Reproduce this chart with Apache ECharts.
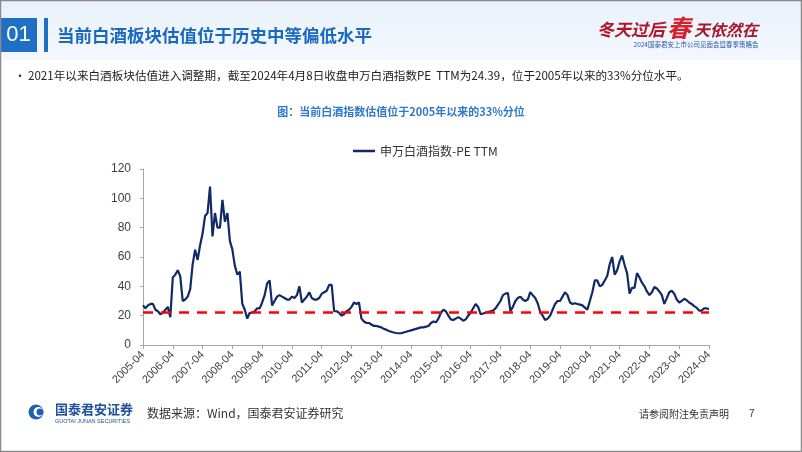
<!DOCTYPE html>
<html>
<head>
<meta charset="utf-8">
<script src="https://cdn.jsdelivr.net/npm/echarts@6/dist/echarts.min.js"></script>
<style>
html,body{margin:0;padding:0;background:#fff;}
#main{width:802px;height:452px;}
</style>
</head>
<body>
<div id="main"></div>
<script>
// ---- data ----
const startYear = 2005, startMonth = 4;
const tickLabels = ['2005-04','2006-04','2007-04','2008-04','2009-04','2010-04','2011-04','2012-04','2013-04','2014-04','2015-04','2016-04','2017-04','2018-04','2019-04','2020-04','2021-04','2022-04','2023-04','2024-04'];
const seriesName = '申万白酒指数-PE TTM';
const peValues = [
  27, 25, 27, 28, 28, 24, 23, 21, 22, 24, 26, 19,
  46, 48, 51, 47, 30, 31, 33, 38, 55, 65, 58, 68,
  76, 88, 90, 108, 74, 90, 80, 80, 99, 84, 90, 71,
  65, 54, 48, 50, 28, 24, 18, 22, 22, 23, 25, 25,
  29, 34, 42, 44, 27, 30, 33, 34, 33, 32, 31, 31,
  33, 32, 34, 40, 29, 31, 33, 36, 32, 31, 31, 32,
  35, 36, 37, 41, 41, 23, 23, 22, 20, 21, 23, 24,
  26, 29, 28, 29, 18, 16, 15, 15, 14, 13, 13, 12.5,
  12, 11, 10.5, 9.5, 9, 8.5, 8.2, 8, 8, 8.5, 9, 9.5,
  10, 10.5, 11, 11.5, 12, 12, 12.5, 13, 15, 16, 15.5, 18,
  22, 24, 23, 20, 17.5, 17, 18, 19, 18, 16.5, 17.5, 20,
  22, 25, 28, 26, 21, 21.5, 22, 22.5, 23, 23.5, 25, 27.5,
  30, 34, 35, 35.5, 23, 26, 30, 32, 33, 31, 30, 31,
  36, 34, 32, 28.5, 22.5, 20, 17, 18, 20, 24, 28, 30,
  30, 33, 36, 34, 29, 28, 28.5, 28, 27.5, 27, 25.5, 24,
  30, 36, 44, 44, 40, 41, 44, 47, 55, 60, 48, 51,
  57, 61, 54.5, 49, 35, 39, 39, 49, 46, 42.5, 40, 36.5,
  34, 36, 39.5, 38.5, 36.5, 34, 28, 32, 36, 37, 35, 31,
  29, 30, 31.5, 30.5, 29, 28, 26.5, 25.5, 23.5, 23.5, 25, 25,
  24.39
];
const percentileLevel = 22; // 33% 分位
const yTicks = [0, 20, 40, 60, 80, 100, 120];

// month categories
const categories = [];
for (let i = 0; i < peValues.length; i++) {
  const t = (startMonth - 1) + i;
  const y = startYear + Math.floor(t / 12);
  const m = (t % 12) + 1;
  categories.push(y + '-' + (m < 10 ? '0' + m : m));
}

const CJK = '"Noto Sans CJK SC", "Noto Sans", sans-serif';
const LAT = '"Liberation Sans", Arial, sans-serif';

const chart = echarts.init(document.getElementById('main'), null, {renderer: 'canvas'});
chart.setOption({
  backgroundColor: '#ffffff',
  animation: false,
  legend: {
    data: [{name: seriesName, icon: 'rect'}],
    left: 348, top: 140,
    itemWidth: 22, itemHeight: 2.5,
    textStyle: {fontFamily: CJK, fontSize: 12, color: '#333'}
  },
  grid: {left: 143, right: 93, top: 169, bottom: 107, containLabel: false},
  xAxis: {
    type: 'category',
    data: categories,
    boundaryGap: false,
    axisLine: {lineStyle: {color: '#a6a6a6', width: 1}},
    axisTick: {
      interval: function (idx, val) { return tickLabels.indexOf(val) >= 0; },
      length: 4, lineStyle: {color: '#a6a6a6'}
    },
    axisLabel: {
      interval: function (idx, val) { return tickLabels.indexOf(val) >= 0; },
      rotate: 45, fontFamily: LAT, fontSize: 11, color: '#404040', margin: 8
    },
    splitLine: {show: false}
  },
  yAxis: {
    type: 'value',
    min: yTicks[0], max: yTicks[yTicks.length - 1], interval: 20,
    axisLine: {show: true, lineStyle: {color: '#a6a6a6'}},
    axisTick: {show: true, length: 3, lineStyle: {color: '#a6a6a6'}},
    axisLabel: {fontFamily: LAT, fontSize: 12, color: '#404040', margin: 12},
    splitLine: {show: false}
  },
  series: [{
    name: seriesName,
    type: 'line',
    data: peValues,
    symbol: 'none',
    showSymbol: false,
    lineStyle: {color: '#0f2a66', width: 2.2},
    itemStyle: {color: '#0f2a66'},
    markLine: {
      silent: true,
      symbol: ['none', 'none'],
      label: {show: false},
      lineStyle: {color: '#ff0000', width: 2.5, type: [10, 8]},
      data: [{yAxis: percentileLevel}]
    },
    z: 3
  }],
  graphic: [
    // header background
    {type: 'rect', shape: {x: 0, y: 0, width: 802, height: 60}, z: -10,
      style: {fill: new echarts.graphic.LinearGradient(0, 0, 0, 1, [{offset: 0, color: '#e8f1fa'}, {offset: 1, color: '#f3f8fd'}])}},
    {type: 'rect', shape: {x: 0, y: 18, width: 37, height: 34}, style: {fill: '#1f6fc5'}},
    {type: 'text', x: 18.5, y: 35, style: {text: '01', fill: '#fff', fontSize: 22, fontFamily: LAT, align: 'center', verticalAlign: 'middle'}},
    {type: 'rect', shape: {x: 44, y: 18, width: 4, height: 34}, style: {fill: '#1f6fc5'}},
    {type: 'text', x: 57, y: 35, style: {text: '当前白酒板块估值位于历史中等偏低水平', fill: '#1a68c0', fontSize: 17.5, fontWeight: 'bold', fontFamily: CJK, verticalAlign: 'middle'}},
    // top-right event logo
    {type: 'text', x: 597, y: 30, style: {text: '冬天过后', fill: '#b3162b', fontSize: 17, fontStyle: 'italic', fontWeight: 'bold', fontFamily: CJK, verticalAlign: 'middle'}},
    {type: 'text', x: 679, y: 28, style: {text: '春', fill: '#d4202f', fontSize: 24, fontStyle: 'italic', fontWeight: 'bold', fontFamily: CJK, align: 'center', verticalAlign: 'middle'}},
    {type: 'text', x: 694, y: 30, style: {text: '天依然在', fill: '#a8162a', fontSize: 16, fontStyle: 'italic', fontWeight: 'bold', fontFamily: CJK, verticalAlign: 'middle'}},
    {type: 'text', x: 696, y: 45, style: {text: '2024国泰君安上市公司见面会暨春季策略会', fill: '#2a5aa8', fontSize: 6.5, fontFamily: CJK, align: 'center', verticalAlign: 'middle'}},
    // bullet text
    {type: 'text', x: 14, y: 76, style: {text: '•', fill: '#333', fontSize: 12, fontFamily: CJK, verticalAlign: 'middle'}},
    {type: 'text', x: 28, y: 76, style: {text: '2021年以来白酒板块估值进入调整期，截至2024年4月8日收盘申万白酒指数PE  TTM为24.39，位于2005年以来的33%分位水平。', fill: '#222', fontSize: 11.6, fontFamily: CJK, verticalAlign: 'middle'}},
    // chart title
    {type: 'text', x: 401, y: 112, style: {text: '图：当前白酒指数估值位于2005年以来的33%分位', fill: '#2f78cc', fontSize: 11, fontWeight: 'bold', fontFamily: CJK, align: 'center', verticalAlign: 'middle'}},
    // footer
    {type: 'circle', shape: {cx: 36, cy: 412, r: 7.5}, style: {fill: '#1f5fb4'}},
    {type: 'circle', shape: {cx: 38.5, cy: 412, r: 5}, style: {fill: '#ffffff'}},
    {type: 'circle', shape: {cx: 40, cy: 412, r: 3.5}, style: {fill: '#1f5fb4'}},
    {type: 'text', x: 55, y: 409, style: {text: '国泰君安证券', fill: '#1f4f9e', fontSize: 13, fontWeight: 'bold', fontFamily: CJK, verticalAlign: 'middle'}},
    {type: 'text', x: 55, y: 421, style: {text: 'GUOTAI JUNAN SECURITIES', fill: '#1f4f9e', fontSize: 5.5, fontFamily: LAT, verticalAlign: 'middle'}},
    {type: 'text', x: 147, y: 413, style: {text: '数据来源：Wind，国泰君安证券研究', fill: '#333', fontSize: 12, fontFamily: CJK, verticalAlign: 'middle'}},
    {type: 'text', x: 639, y: 414, style: {text: '请参阅附注免责声明', fill: '#333', fontSize: 10, fontFamily: CJK, verticalAlign: 'middle'}},
    {type: 'text', x: 749, y: 414, style: {text: '7', fill: '#333', fontSize: 10, fontFamily: LAT, verticalAlign: 'middle'}},
    // slide border
    {type: 'rect', shape: {x: 0.5, y: 0.5, width: 801, height: 451}, z: 100, style: {fill: 'none', stroke: '#8a8a8a', lineWidth: 1.5}}
  ]
});
</script>
</body>
</html>
